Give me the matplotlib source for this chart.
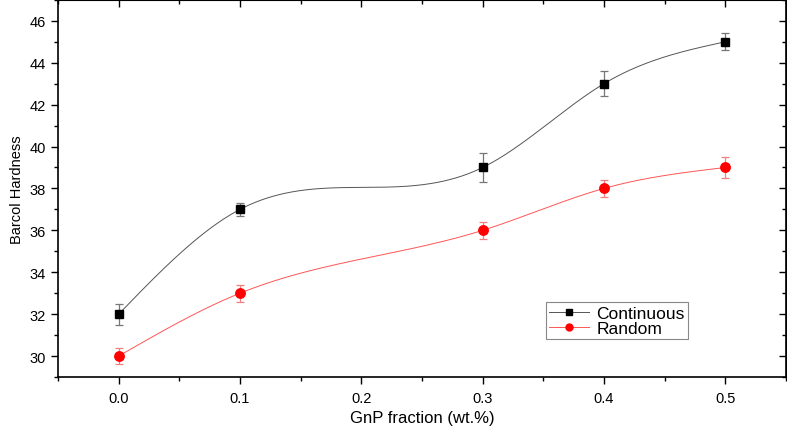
import numpy as np
import matplotlib
matplotlib.use("Agg")
import matplotlib.pyplot as plt
from matplotlib.ticker import MultipleLocator

plt.rcParams['font.family'] = ['Liberation Sans', 'DejaVu Sans']

gnp = [0.0, 0.1, 0.3, 0.4, 0.5]
continuous = [32, 37, 39, 43, 45]
continuous_err = [0.5, 0.3, 0.7, 0.6, 0.4]
random_ = [30, 33, 36, 38, 39]
random_err = [0.4, 0.4, 0.4, 0.4, 0.5]


def natural_spline(x, y, n=300):
    x = np.asarray(x, float); y = np.asarray(y, float)
    k = len(x)
    h = np.diff(x)
    A = np.zeros((k, k)); b = np.zeros(k)
    A[0, 0] = 1; A[-1, -1] = 1
    for i in range(1, k - 1):
        A[i, i - 1] = h[i - 1]
        A[i, i] = 2 * (h[i - 1] + h[i])
        A[i, i + 1] = h[i]
        b[i] = 3 * ((y[i + 1] - y[i]) / h[i] - (y[i] - y[i - 1]) / h[i - 1])
    c = np.linalg.solve(A, b)
    xs = np.linspace(x[0], x[-1], n)
    ys = np.empty_like(xs)
    for j, xv in enumerate(xs):
        i = min(np.searchsorted(x, xv, side='right') - 1, k - 2)
        bi = (y[i + 1] - y[i]) / h[i] - h[i] * (2 * c[i] + c[i + 1]) / 3
        di = (c[i + 1] - c[i]) / (3 * h[i])
        t = xv - x[i]
        ys[j] = y[i] + bi * t + c[i] * t ** 2 + di * t ** 3
    return xs, ys


fig = plt.figure(figsize=(7.87, 4.27), dpi=100)
ax = fig.add_axes([58 / 787, 1 - 378 / 427, (786 - 58) / 787, 378 / 427 - 0.002])

xs, ys = natural_spline(gnp, continuous)
ax.plot(xs, ys, color='#555555', lw=0.7)
xs2, ys2 = natural_spline(gnp, random_)
ax.plot(xs2, ys2, color='#ff5555', lw=0.7)

ax.errorbar(gnp, continuous, yerr=continuous_err, fmt='none', ecolor='#777777',
            elinewidth=0.9, capsize=3, capthick=0.9)
ax.errorbar(gnp, random_, yerr=random_err, fmt='none', ecolor='#f08080',
            elinewidth=0.9, capsize=3, capthick=0.9)
ax.plot(gnp, continuous, 's', color='black', ms=6, zorder=5)
ax.plot(gnp, random_, 'o', color='red', ms=6.8, zorder=5)

# legend proxies
h1, = ax.plot([], [], color='#555555', lw=0.7, marker='s', mfc='black', mec='black', ms=4.5)
h2, = ax.plot([], [], color='#ff5555', lw=0.7, marker='o', mfc='red', mec='red', ms=5)
leg = ax.legend([h1, h2], ['Continuous', 'Random'], loc='upper left',
                bbox_to_anchor=((546 - 58) / 728, 1 - 302 / 377), fontsize=12.5,
                fancybox=False, edgecolor='#888888', framealpha=1,
                handlelength=2.3, borderpad=0.2, labelspacing=0.0,
                handletextpad=0.4, borderaxespad=0)
leg.get_frame().set_linewidth(0.8)

ax.set_xlim(-0.05, 0.55)
ax.set_ylim(29, 47)
ax.xaxis.set_minor_locator(MultipleLocator(0.05))
ax.yaxis.set_minor_locator(MultipleLocator(1))
ax.set_xticks([0.0, 0.1, 0.2, 0.3, 0.4, 0.5])
ax.set_xticklabels(['0.0', '0.1', '0.2', '0.3', '0.4', '0.5'])
ax.set_yticks(range(30, 47, 2))
ax.tick_params(which='both', direction='out', labelsize=10.5, width=1)
ax.tick_params(axis='x', pad=5)
ax.tick_params(which='major', length=5)
ax.tick_params(which='minor', length=3)
for s in ax.spines.values():
    s.set_linewidth(1.2)

ax.set_xlabel('GnP fraction (wt.%)', fontsize=12, labelpad=4)
ax.set_ylabel('Barcol Hardness', fontsize=10.5, labelpad=4)

# mirrored ticks on top/right (inward, unlabeled)
secx = ax.secondary_xaxis('top')
secx.set_xticks([0.0, 0.1, 0.2, 0.3, 0.4, 0.5])
secx.xaxis.set_minor_locator(MultipleLocator(0.05))
secx.tick_params(which='both', direction='in', labeltop=False, width=1)
secx.tick_params(which='major', length=5)
secx.tick_params(which='minor', length=3)
secy = ax.secondary_yaxis('right')
secy.set_yticks(range(30, 47, 2))
secy.yaxis.set_minor_locator(MultipleLocator(1))
secy.tick_params(which='both', direction='in', labelright=False, width=1)
secy.tick_params(which='major', length=5)
secy.tick_params(which='minor', length=3)

fig.savefig('out.png', dpi=100)
